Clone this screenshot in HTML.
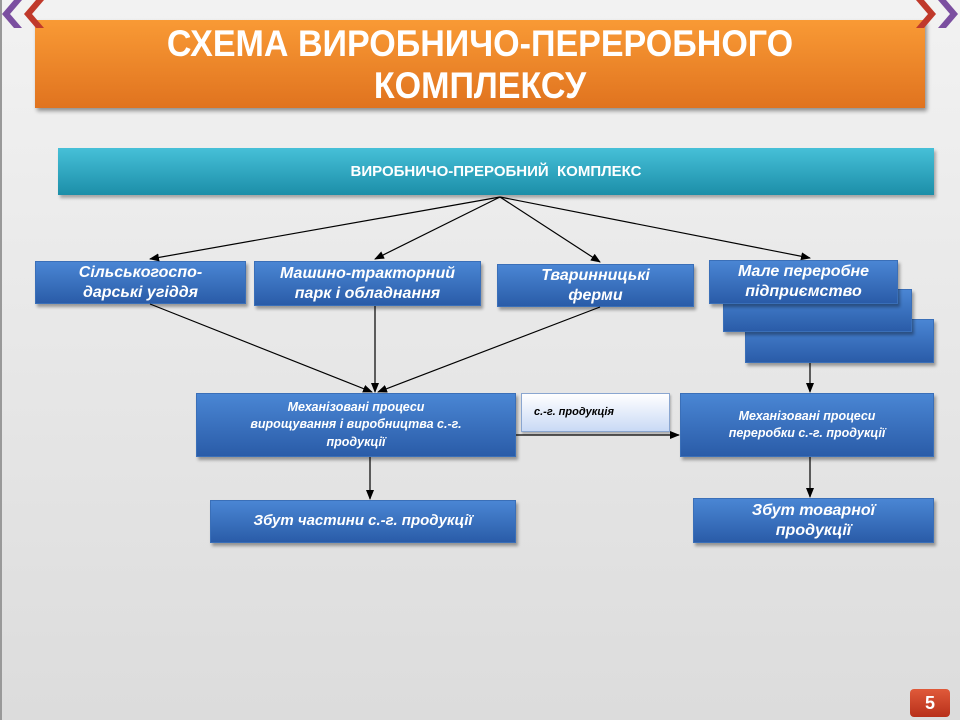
<!DOCTYPE html>
<html><head><meta charset="utf-8"><style>
body{margin:0;width:960px;height:720px;overflow:hidden;background:linear-gradient(#f2f2f2,#dcdcdc);font-family:"Liberation Sans",sans-serif;position:relative}
.b{position:absolute;box-sizing:border-box;background:linear-gradient(#4a86d4,#2a5ca8);color:#fff;font-weight:bold;font-style:italic;text-align:center;box-shadow:2px 3px 3px rgba(0,0,0,.35);border:1px solid #3a6fb8;display:flex;align-items:center;justify-content:center;line-height:1.25}
svg{position:absolute;left:0;top:0}
</style></head><body>
<div style="position:absolute;left:0;top:0;width:2px;height:720px;background:#999"></div>
<div style="position:absolute;left:35px;top:20px;width:890px;height:88px;background:linear-gradient(#f99a35,#e0731f);box-shadow:2px 3px 4px rgba(0,0,0,.4);color:#fff;font-weight:bold;font-size:37px;text-align:center;line-height:42px;padding-top:3px;box-sizing:border-box"><div style="transform:scaleX(0.92)">СХЕМА ВИРОБНИЧО-ПЕРЕРОБНОГО<br>КОМПЛЕКСУ</div></div>
<div style="position:absolute;left:58px;top:148px;width:876px;height:47px;background:linear-gradient(#46c0d8,#1c8ea8);color:#fff;font-weight:bold;font-size:15px;text-align:center;line-height:47px;box-shadow:2px 3px 3px rgba(0,0,0,.3)">ВИРОБНИЧО-ПРЕРОБНИЙ&nbsp; КОМПЛЕКС</div>
<div class="b" style="left:35px;top:261px;width:211px;height:43px;font-size:16px">Сільськогоспо-<br>дарські угіддя</div>
<div class="b" style="left:254px;top:261px;width:227px;height:45px;font-size:16px">Машино-тракторний<br>парк і обладнання</div>
<div class="b" style="left:497px;top:264px;width:197px;height:43px;font-size:16px">Тваринницькі<br>ферми</div>
<div class="b" style="left:745px;top:319px;width:189px;height:44px"></div>
<div class="b" style="left:723px;top:289px;width:189px;height:43px"></div>
<div class="b" style="left:709px;top:260px;width:189px;height:44px;font-size:16px">Мале переробне<br>підприємство</div>
<div class="b" style="left:196px;top:393px;width:320px;height:64px;font-size:12.5px;line-height:1.4">Механізовані процеси<br>вирощування і виробництва с.-г.<br>продукції</div>
<div style="position:absolute;left:521px;top:393px;width:149px;height:39px;box-sizing:border-box;background:linear-gradient(#fff,#c9daf5);border:1px solid #8aa6d0;font-size:11px;font-weight:bold;font-style:italic;padding:12px 0 0 12px;box-shadow:1px 2px 2px rgba(0,0,0,.25)">с.-г. продукція</div>
<div class="b" style="left:680px;top:393px;width:254px;height:64px;font-size:12.5px;line-height:1.4">Механізовані процеси<br>переробки с.-г. продукції</div>
<div class="b" style="left:210px;top:500px;width:306px;height:43px;font-size:15px">Збут частини с.-г. продукції</div>
<div class="b" style="left:693px;top:498px;width:241px;height:45px;font-size:16px">Збут товарної<br>продукції</div>
<div style="position:absolute;left:910px;top:689px;width:40px;height:28px;background:linear-gradient(#e05a3a,#b8301a);border-radius:4px;color:#fff;font-weight:bold;font-size:18px;text-align:center;line-height:28px">5</div>
<svg width="960" height="720">
<defs><marker id="a" markerWidth="10" markerHeight="8" refX="9" refY="4" orient="auto" markerUnits="userSpaceOnUse"><path d="M0,0L10,4L0,8z" fill="#000"/></marker></defs>
<g stroke="#000" stroke-width="1.2" fill="none" marker-end="url(#a)">
<line x1="500" y1="197" x2="150" y2="259"/>
<line x1="500" y1="197" x2="375" y2="259"/>
<line x1="500" y1="197" x2="600" y2="262"/>
<line x1="500" y1="197" x2="810" y2="258"/>
<line x1="150" y1="304" x2="372" y2="392"/>
<line x1="375" y1="306" x2="375" y2="392"/>
<line x1="600" y1="307" x2="378" y2="392"/>
<line x1="810" y1="363" x2="810" y2="392"/>
<line x1="516" y1="435" x2="679" y2="435"/>
<line x1="370" y1="457" x2="370" y2="499"/>
<line x1="810" y1="457" x2="810" y2="497"/>
</g>
<path d="M22,0 L10,14 L22,28 L14,28 L2,14 L14,0z" fill="#7b4fa0"/>
<path d="M44,0 L32,14 L44,28 L36,28 L24,14 L36,0z" fill="#c0392b"/>
<path d="M916,0 L928,14 L916,28 L924,28 L936,14 L924,0z" fill="#c0392b"/>
<path d="M938,0 L950,14 L938,28 L946,28 L958,14 L946,0z" fill="#7b4fa0"/>
</svg>
</body></html>
